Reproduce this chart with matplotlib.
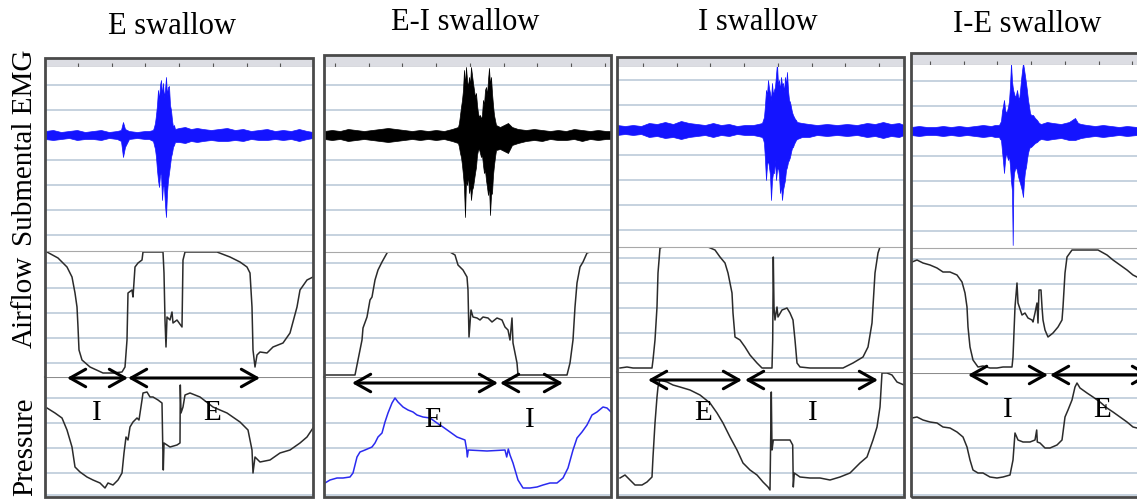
import matplotlib.pyplot as plt
import numpy as np
from matplotlib.patches import Rectangle

plt.rcParams["font.family"] = ["Liberation Serif", "DejaVu Serif"]

W, H = 1137, 500

titles = ["E swallow", "E-I swallow", "I swallow", "I-E swallow"]
row_names = ["Submental EMG", "Airflow", "Pressure"]

# ---- Submental EMG: upper / lower envelope (a.u., 0 = baseline) ----
emg_t1 = [0, 8, 16, 24, 32, 40, 48, 56, 64, 72, 76, 78, 80, 84, 92, 100, 104,
          108, 109, 110, 111, 112, 113, 114, 115, 116, 117, 118, 119, 120, 121, 122, 123, 124, 125, 126, 127,
          128, 129, 130,
          134, 140, 146, 152, 158, 166, 174, 182, 190, 198, 206, 214, 222, 230, 238, 246, 254, 262, 268]
emg_hi1 = [4, 5, 3, 4, 5, 3, 4, 5, 3, 4, 5, 13, 6, 4, 3, 4, 4,
           5, 8, 12, 20, 30, 45, 35, 50, 55, 40, 52, 38, 45, 58, 40, 48, 49, 30, 25, 15,
           8, 10, 6,
           7, 8, 6, 7, 6, 5, 6, 7, 5, 6, 4, 5, 6, 4, 5, 4, 6, 4, 3]
emg_lo1 = [-4, -5, -4, -3, -5, -4, -4, -5, -3, -4, -6, -22, -12, -4, -3, -4, -4,
           -6, -10, -14, -22, -35, -45, -52, -40, -38, -65, -50, -52, -70, -82, -58, -45, -38, -30, -22, -18,
           -12, -10, -7,
           -7, -8, -6, -7, -6, -5, -6, -6, -5, -6, -4, -5, -5, -4, -5, -4, -6, -4, -3]

emg_t2 = [0, 8, 16, 24, 32, 40, 48, 56, 64, 72, 80, 88, 96, 104, 112, 120, 128,
          134, 135, 136, 137, 138, 139, 140, 141, 142, 143, 144, 145, 146, 147, 148, 149, 150, 151, 152, 153,
          154, 155, 156, 157, 158, 159, 160, 161, 162, 163, 164, 165, 166, 167, 168, 169, 170, 171, 172,
          176, 180, 184, 188, 194, 202, 210, 218, 226, 234, 242, 250, 258, 266, 274, 282, 287]
emg_hi2 = [4, 5, 4, 6, 5, 4, 5, 6, 7, 6, 5, 4, 5, 4, 5, 4, 6,
           8, 12, 20, 28, 35, 45, 65, 50, 68, 55, 48, 58, 50, 68, 60, 52, 45, 38, 42, 30,
           22, 18, 20, 16, 20, 35, 30, 45, 48, 40, 55, 67, 50, 58, 42, 30, 20, 15, 10,
           8, 10, 12, 8, 6, 5, 6, 5, 4, 5, 4, 6, 5, 4, 5, 4, 4]
emg_lo2 = [-4, -5, -4, -6, -5, -4, -5, -6, -7, -6, -5, -4, -5, -4, -5, -4, -6,
           -8, -12, -18, -22, -30, -40, -52, -82, -45, -50, -40, -58, -50, -65, -55, -52, -45, -38, -32, -20,
           -15, -14, -18, -22, -20, -30, -38, -35, -45, -52, -60, -50, -80, -60, -58, -40, -30, -22, -15,
           -14, -16, -18, -10, -8, -6, -5, -6, -4, -5, -5, -4, -6, -4, -5, -4, -4]

emg_t3 = [0, 8, 16, 24, 32, 40, 48, 56, 64, 72, 80, 88, 96, 104, 112, 120, 128, 136, 141,
          145, 146, 147, 148, 149, 150, 151, 152, 153, 154, 155, 156, 157, 158, 159, 160, 161, 162, 163, 164,
          165, 166, 167, 168, 169, 170, 171, 172, 173, 174, 175, 176, 177, 178, 179, 180,
          185, 192, 200, 210, 220, 230, 240, 250, 258, 266, 274, 282, 287]
emg_hi3 = [5, 4, 5, 4, 7, 6, 8, 6, 9, 7, 6, 5, 7, 5, 6, 4, 5, 5, 6,
           7, 10, 13, 25, 40, 35, 50, 42, 37, 30, 47, 35, 40, 43, 55, 67, 45, 50, 40, 53,
           45, 47, 38, 53, 45, 58, 40, 30, 28, 23, 18, 15, 13, 11, 10, 8,
           7, 6, 5, 6, 5, 6, 5, 7, 6, 8, 6, 7, 5]
emg_lo3 = [-5, -4, -5, -4, -7, -6, -8, -7, -9, -7, -6, -5, -7, -5, -6, -4, -5, -5, -6,
           -7, -9, -13, -30, -50, -35, -30, -37, -45, -70, -50, -43, -43, -30, -50, -40, -37, -45, -63, -55,
           -70, -60, -55, -50, -40, -37, -32, -30, -27, -22, -18, -17, -14, -12, -10, -9,
           -7, -7, -5, -6, -5, -6, -5, -7, -6, -8, -6, -7, -5]

emg_t4 = [0, 8, 16, 24, 32, 40, 48, 56, 64, 72, 80, 84,
          88, 89, 90, 91, 92, 93, 94, 95, 96, 97, 98, 99, 100, 101, 101.7, 102.4, 103, 104, 105, 106,
          107, 108, 109, 110, 111, 112, 113, 114, 115, 116, 117, 118, 119, 120, 122, 124, 126, 128, 130,
          136, 142, 150, 158, 164, 167, 170, 176, 184, 192, 200, 208, 216, 226]
emg_hi4 = [4, 5, 4, 4, 5, 4, 5, 4, 5, 6, 5, 6,
           6, 8, 10, 20, 25, 31, 22, 18, 20, 24, 30, 45, 68, 50, 44, 40, 38, 34, 36, 41,
           35, 31, 40, 51, 60, 68, 62, 55, 48, 40, 31, 25, 18, 16, 16, 13, 11, 8, 7,
           9, 8, 7, 9, 13, 8, 7, 6, 5, 6, 5, 4, 5, 4]
emg_lo4 = [-4, -5, -4, -4, -5, -4, -5, -4, -5, -6, -5, -6,
           -6, -8, -9, -20, -30, -42, -30, -22, -25, -29, -25, -35, -50, -60, -114, -50, -42, -38, -36, -40,
           -45, -49, -52, -56, -60, -66, -50, -40, -36, -28, -22, -18, -16, -16, -14, -12, -11, -9, -8,
           -9, -8, -7, -9, -9, -8, -7, -6, -5, -6, -5, -4, -5, -4]

# ---- Airflow (a.u.) ----
air_t1 = [2, 13, 22, 27, 30, 32, 33, 34, 37, 45, 58, 68, 77, 80, 82, 83, 87, 88, 90, 93,
          97, 98, 118, 119, 120, 121, 122, 125, 127, 128, 132, 137, 138, 140, 172, 185, 195, 202, 205, 207,
          208, 210, 212, 215, 222, 228, 238, 245, 252, 255, 262, 268]
air_v1 = [125, 119, 110, 100, 84, 70, 50, 27, 17, 10, 4, 4, 5, 10, 37, 84, 87, 80, 110, 114,
          117, 125, 125, 104, 57, 30, 60, 57, 65, 54, 57, 50, 117, 125, 125, 120, 115, 110, 104, 70,
          27, 10, 22, 25, 24, 30, 34, 44, 70, 87, 97, 100]

air_t2 = [1, 31, 34, 38, 39, 43, 46, 48, 51, 54, 58, 63, 64, 126, 131, 134, 139, 143, 144, 145,
          147, 149, 153, 156, 159, 164, 168, 173, 178, 181, 184, 186, 188, 189, 193, 194, 243, 246, 249, 251,
          253, 256, 259, 263, 266, 287]
air_v2 = [2, 2, 17, 37, 49, 60, 77, 80, 97, 107, 115, 124, 125, 125, 122, 112, 107, 100, 87, 40,
          67, 60, 59, 57, 60, 59, 55, 59, 57, 50, 47, 37, 59, 34, 14, 2, 2, 14, 37, 70,
          94, 110, 115, 124, 125, 125]

air_t3 = [3, 10, 16, 35, 36, 38, 40, 41, 43, 46, 91, 98, 103, 108, 111, 115, 116, 118, 123, 128,
          133, 140, 145, 155, 155.7, 156.3, 157, 158, 160, 161, 165, 170, 173, 176, 178, 180, 183, 193, 226, 236,
          246, 251, 255, 258, 261, 263, 287]
air_v3 = [4, 5, 4, 4, 12, 32, 65, 99, 124, 125, 125, 122, 115, 109, 99, 79, 59, 35, 32, 25,
          17, 9, 4, 4, 32, 115, 65, 52, 65, 55, 62, 64, 59, 52, 32, 9, 5, 4, 4, 9,
          15, 25, 49, 99, 119, 125, 125]

air_t4 = [1, 6, 12, 19, 26, 32, 39, 46, 51, 54, 56, 57, 59, 62, 67, 72, 79, 86, 92, 101,
          102, 104, 106, 107, 111, 114, 117, 121, 122, 124, 126, 127, 128, 130, 131, 132, 134, 137, 142, 147,
          151, 152, 154, 156, 161, 187, 196, 202, 209, 216, 222, 226]
air_v4 = [111, 113, 110, 108, 105, 101, 101, 98, 91, 80, 66, 46, 26, 13, 6, 7, 5, 5, 6, 6,
          16, 66, 90, 70, 58, 60, 55, 53, 51, 60, 70, 50, 83, 83, 66, 53, 43, 36, 40, 46,
          53, 66, 100, 116, 123, 123, 118, 113, 108, 103, 98, 96]

# ---- Pressure (a.u.) ----
press_t1 = [2, 10, 17, 22, 27, 30, 35, 42, 48, 55, 60, 63, 68, 73, 77, 79, 81, 83, 85, 88,
            92, 94, 97, 98, 102, 105, 108, 113, 117, 117.7, 118.3, 119, 125, 132, 135, 135.3, 136, 138, 140, 145,
            155, 168, 182, 195, 203, 207, 208, 210, 215, 225, 235, 245, 255, 262, 268]
press_v1 = [89, 84, 79, 67, 50, 30, 25, 20, 17, 14, 9, 14, 12, 17, 24, 44, 60, 57, 70, 75,
            79, 77, 97, 104, 105, 100, 100, 97, 94, 54, 27, 54, 50, 52, 54, 112, 84, 90, 102, 104,
            100, 90, 84, 75, 67, 47, 24, 40, 35, 37, 44, 47, 54, 60, 69]

press_t2 = [1, 6, 13, 19, 26, 29, 33, 36, 41, 48, 51, 54, 58, 61, 64, 68, 71, 74, 79, 84,
            89, 93, 99, 106, 113, 119, 126, 133, 141, 142.7, 143.3, 144.3, 163, 181, 182.7, 184.3, 186, 189, 194, 199,
            206, 213, 219, 226, 233, 239, 244, 249, 253, 258, 263, 268, 273, 279, 283, 287]
press_v2 = [14, 17, 19, 19, 20, 24, 40, 45, 47, 50, 54, 60, 64, 75, 84, 94, 99, 95, 90, 87,
            85, 82, 80, 79, 74, 70, 65, 60, 57, 47, 40, 47, 46, 47, 40, 48, 42, 34, 17, 9,
            9, 10, 12, 14, 14, 19, 29, 47, 59, 65, 72, 82, 85, 90, 89, 85]

press_t3 = [3, 8, 13, 18, 25, 30, 35, 36, 38, 40, 41, 43, 50, 56, 63, 73, 83, 93, 100, 106,
            113, 120, 126, 133, 140, 146, 151, 153, 154.3, 155, 156.3, 173, 175.7, 176.3, 177.3, 183, 193, 203, 213, 223,
            233, 243, 250, 256, 260, 263, 265, 270, 275, 280, 287]
press_v3 = [19, 22, 17, 12, 12, 15, 20, 40, 74, 100, 110, 117, 115, 112, 110, 107, 102, 94, 84, 74,
            60, 47, 34, 27, 22, 15, 10, 7, 105, 47, 57, 57, 52, 10, 24, 20, 19, 19, 17, 20,
            24, 34, 40, 57, 70, 90, 124, 124, 122, 115, 112]

press_t4 = [1, 6, 12, 19, 26, 32, 39, 46, 52, 56, 59, 62, 67, 72, 79, 86, 92, 99, 102, 104,
            107, 112, 119, 124, 125.7, 126.3, 129, 134, 139, 146, 151, 154, 157, 161, 164, 166, 169, 176, 182, 189,
            196, 202, 209, 216, 222, 226]
press_v4 = [79, 80, 77, 75, 74, 70, 69, 65, 60, 50, 37, 27, 24, 24, 20, 19, 20, 22, 37, 64,
            57, 55, 55, 57, 67, 55, 54, 49, 49, 52, 57, 80, 87, 97, 110, 114, 109, 104, 100, 95,
            89, 85, 80, 75, 70, 69]

# ---- breathing phase arrows (start, end) and phase labels (text, time, pressure level) ----
arrows = [[(22, 83), (83, 215)],
          [(28, 174), (176, 239)],
          [(31, 125), (128, 261)],
          [(57, 137), (139, 240)]]
phase_labels = [[("I", 52, 84), ("E", 167, 84)],
                [("E", 109, 77), ("I", 206, 77)],
                [("E", 86, 84), ("I", 196, 84)],
                [("I", 97, 87), ("E", 191, 87)]]

emg_color = ["#1414ff", "black", "#1414ff", "#1414ff"]
press_color = ["#2b2b2b", "#2a2af0", "#2b2b2b", "#2b2b2b"]

# panel layout in pixels: left, right, top, header bottom, EMG bottom, airflow bottom, bottom,
# EMG baseline, first header tick, arrow level
layout = [
    (45, 313, 58, 67, 251, 377, 497, 135, 33, -1),
    (324, 611, 55, 67, 252, 377, 497, 135, 11, -6),
    (617, 904, 57, 67, 247, 372, 497, 130, 26, -8),
    (911, 1150, 53, 65, 248, 373, 497, 131, 19, -2),
]
title_pos = [(172, 27), (465, 22), (758, 22), (1027, 25)]

emg_data = [(emg_t1, emg_hi1, emg_lo1), (emg_t2, emg_hi2, emg_lo2),
            (emg_t3, emg_hi3, emg_lo3), (emg_t4, emg_hi4, emg_lo4)]
air_data = [(air_t1, air_v1), (air_t2, air_v2), (air_t3, air_v3), (air_t4, air_v4)]
press_data = [(press_t1, press_v1), (press_t2, press_v2), (press_t3, press_v3), (press_t4, press_v4)]

GRID = "#c6d2df"

fig = plt.figure(figsize=(W / 100, H / 100), dpi=100)


def px_axes(l, r, t, b):
    return fig.add_axes([l / W, 1 - b / H, (r - l) / W, (b - t) / H])


def clean(ax, width, yticks):
    ax.set_xlim(0, width)
    ax.set_xticks([])
    ax.set_yticks(yticks)
    ax.tick_params(left=False, labelleft=False)
    ax.grid(axis="y", color=GRID, lw=1.4)
    ax.set_axisbelow(True)
    for s in ax.spines.values():
        s.set_visible(False)


for i in range(4):
    l, r, top, hb, eb, ab, bot, base, tick0, arrow_y = layout[i]
    width = r - l

    # header strip with time ticks
    head = px_axes(l, r, top, hb)
    head.set_facecolor("#dcdde3")
    head.set_xlim(0, width)
    head.set_xticks(np.arange(tick0, width, 33.7))
    head.set_yticks([])
    head.tick_params(axis="x", direction="in", length=3, color="#555555", labelbottom=False)
    for s in head.spines.values():
        s.set_visible(False)
    head.spines["bottom"].set_visible(True)
    head.spines["bottom"].set_color("#999999")

    # EMG
    emg = px_axes(l, r, hb, eb)
    emg.set_ylim(base - eb, base - hb)
    clean(emg, width, [-100, -75, -50, -25, 0, 25, 50])
    t, hi, lo = emg_data[i]
    emg.fill_between(t, lo, hi, color=emg_color[i], lw=0.5)

    # pressure
    press = px_axes(l, r, ab, bot)
    press.set_ylim(0, bot - ab)
    clean(press, width, [2, 24, 49, 74, 99])
    press.spines["top"].set_visible(True)
    press.spines["top"].set_color("#8c8c8c")
    press.spines["top"].set_linewidth(1.5)
    t, v = press_data[i]
    press.plot(t, v, color=press_color[i], lw=1.1)
    for txt, tx, ty in phase_labels[i]:
        press.text(tx, ty, txt, fontsize=21, ha="center", va="center", color="black")

    # airflow (drawn above pressure so the phase arrows stay visible)
    air = px_axes(l, r, eb, ab)
    air.set_zorder(3)
    air.set_ylim(0, ab - eb)
    clean(air, width, [14, 39, 64, 89, 114])
    air.spines["top"].set_visible(True)
    air.spines["top"].set_color("#a8a8a8")
    t, v = air_data[i]
    air.plot(t, v, color="#2b2b2b", lw=1.1)
    for a0, a1 in arrows[i]:
        air.annotate("", xy=(a1, arrow_y), xytext=(a0, arrow_y), annotation_clip=False,
                     arrowprops=dict(arrowstyle="<->,head_length=0.8,head_width=0.45",
                                     mutation_scale=14, lw=2.2, color="black",
                                     shrinkA=0, shrinkB=0))

    # panel frame
    fig.add_artist(Rectangle((l / W, 1 - bot / H), width / W, (bot - top) / H,
                             transform=fig.transFigure, fill=False,
                             ec="#4a4a4a", lw=2, zorder=5))

    fig.text(title_pos[i][0] / W, 1 - title_pos[i][1] / H, titles[i],
             fontsize=22, ha="center", va="center")

fig.text(25 / W, 1 - 148 / H, row_names[0], rotation=90, fontsize=21, ha="center", va="center")
fig.text(25 / W, 1 - 302 / H, row_names[1], rotation=90, fontsize=21, ha="center", va="center")
fig.text(25 / W, 1 - 447 / H, row_names[2], rotation=90, fontsize=21, ha="center", va="center")

fig.savefig("out.png", dpi=100)
